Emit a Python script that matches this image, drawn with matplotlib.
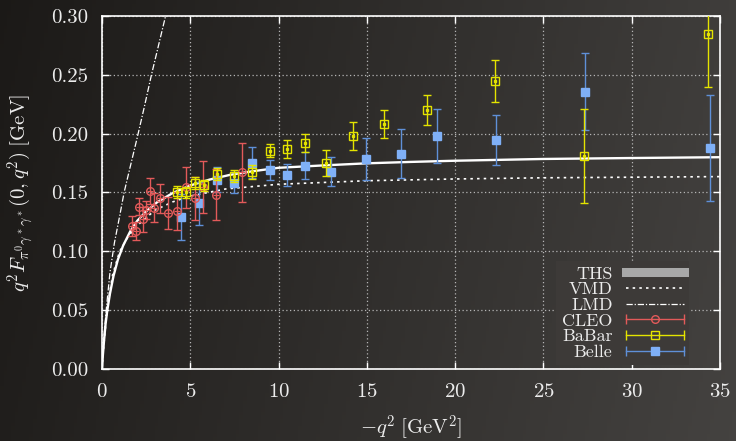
import numpy as np
import matplotlib
matplotlib.use("Agg")
import matplotlib.pyplot as plt
from matplotlib.lines import Line2D
from matplotlib.legend_handler import HandlerLine2D

# model curves: -q^2 [GeV^2] and q^2 F [GeV]
ths_q2 = [0, 0.05, 0.12, 0.2, 0.3, 0.45, 0.65, 0.9, 1.2, 1.6, 2.0, 2.5, 3.1, 4.0, 5.0, 6.1,
          7.25, 8.5, 10, 12.5, 15, 17.5, 20, 25, 30, 35]
ths_val = [0, 0.012, 0.025, 0.038, 0.050, 0.064, 0.079, 0.093, 0.105, 0.117, 0.126, 0.134,
           0.1415, 0.1495, 0.156, 0.161, 0.165, 0.168, 0.171, 0.173, 0.1748, 0.176, 0.177,
           0.1785, 0.1793, 0.180]

vmd_q2 = [0, 0.1, 0.3, 0.6, 1.0, 1.5, 2.0, 3.0, 4.0, 5.0, 7.0, 10, 15, 20, 25, 30, 35]
vmd_val = [0, 0.020, 0.052, 0.080, 0.100, 0.113, 0.122, 0.135, 0.142, 0.147, 0.153, 0.157,
           0.160, 0.1615, 0.1625, 0.163, 0.1635]

lmd_q2 = [0, 0.1, 0.25, 0.45, 0.7, 1.0, 1.25, 1.6, 2.0, 2.4, 2.8, 3.2, 3.6, 4.0]
lmd_val = [0, 0.025, 0.052, 0.082, 0.107, 0.130, 0.150, 0.172, 0.197, 0.223, 0.250, 0.275,
           0.300, 0.325]

# CLEO
cleo_q2 = [1.68, 1.9, 2.11, 2.3, 2.49, 2.72, 2.94, 3.3, 3.76, 4.24, 4.76, 5.27, 5.74, 6.47, 7.93]
cleo_val = [0.1215, 0.1173, 0.138, 0.1272, 0.1351, 0.1513, 0.137, 0.145, 0.1323, 0.1343,
            0.1544, 0.145, 0.155, 0.148, 0.167]
cleo_err = [0.0083, 0.0076, 0.0073, 0.0108, 0.008, 0.011, 0.0125, 0.0123, 0.0137, 0.0164,
            0.0175, 0.0184, 0.0221, 0.0218, 0.0253]

# BaBar
babar_q2 = [4.24, 4.76, 5.24, 5.75, 6.49, 7.47, 8.47, 9.49, 10.48, 11.5, 12.7, 14.23, 15.95,
            18.4, 22.27, 27.3, 34.33]
babar_val = [0.1507, 0.150, 0.1578, 0.156, 0.1657, 0.164, 0.1677, 0.1855, 0.1867, 0.1918,
             0.1753, 0.1983, 0.208, 0.22, 0.245, 0.181, 0.285]
babar_err = [0.005, 0.005, 0.005, 0.0045, 0.005, 0.005, 0.006, 0.0055, 0.0075, 0.0078,
             0.011, 0.012, 0.012, 0.013, 0.0177, 0.040, 0.045]

# Belle
belle_q2 = [4.45, 5.47, 6.51, 7.45, 8.49, 9.49, 10.48, 11.5, 12.94, 14.95, 16.96, 18.95,
            22.3, 27.33, 34.43]
belle_val = [0.1294, 0.1408, 0.161, 0.1583, 0.1753, 0.169, 0.1649, 0.1728, 0.1677, 0.1785,
             0.183, 0.198, 0.1946, 0.2357, 0.188]
belle_err = [0.0194, 0.0183, 0.011, 0.009, 0.013, 0.0085, 0.009, 0.0113, 0.0125, 0.018,
             0.021, 0.023, 0.0215, 0.033, 0.045]

red = "#e35a5a"
yellow = "#e4e400"
blue_bar = "#5f90d8"
blue_mk = "#7fb0f7"
fg = "#ececec"

plt.rcParams['font.family'] = 'cmr10'
plt.rcParams['mathtext.fontset'] = 'cm'
plt.rcParams['axes.formatter.use_mathtext'] = True

fig = plt.figure(figsize=(7.36, 4.41), dpi=100)

# dark chalkboard-ish background
def bg_lum(x, y):
    return 0.10 + 0.14 * x + 0.02 * (1 - y)

gx, gy = np.meshgrid(np.linspace(0, 1, 200), np.linspace(1, 0, 120))
lum = bg_lum(gx, gy)
bg = fig.add_axes([0, 0, 1, 1], zorder=-10)
bg.imshow(np.dstack([lum + 0.008, lum, lum - 0.008]), extent=(0, 1, 0, 1),
          aspect='auto')
bg.axis('off')
lg = bg_lum(0.82, 0.27)
leg_color = (lg + 0.008, lg, lg - 0.008)

ax = fig.add_axes([0.1386, 0.1633, 0.8397, 0.8004])
ax.set_facecolor('none')

ax.plot(ths_q2, ths_val, color='white', lw=1.7, zorder=3)
ax.plot(vmd_q2, vmd_val, color='white', lw=1.2, ls=(0, (1.5, 2.5)), zorder=3)
ax.plot(lmd_q2, lmd_val, color='white', lw=0.9, ls=(0, (5, 1.5, 1, 1.5)), zorder=3)

ax.errorbar(cleo_q2, cleo_val, yerr=cleo_err, fmt='o', ms=5.5, mfc='none', mec=red,
            mew=1, ecolor=red, elinewidth=1, capsize=3, capthick=1, zorder=5)
ax.plot(cleo_q2, cleo_val, '+', ms=4, mew=0.8, color=red, zorder=5)
ax.errorbar(babar_q2, babar_val, yerr=babar_err, fmt='s', ms=6, mfc='none', mec=yellow,
            mew=1, ecolor=yellow, elinewidth=1, capsize=3, capthick=1, zorder=6)
ax.plot(babar_q2, babar_val, 's', ms=1.5, color=yellow, zorder=6)
ax.errorbar(belle_q2, belle_val, yerr=belle_err, fmt='s', ms=5.5, mfc=blue_mk, mec=blue_mk,
            ecolor=blue_bar, elinewidth=1, capsize=3, capthick=1, zorder=4)

ax.set_xlim(0, 35)
ax.set_ylim(0, 0.30)
ax.set_xticks(np.arange(0, 36, 5))
ax.set_yticks(np.arange(0, 0.31, 0.05))
ax.set_yticklabels([f"{v:.2f}" for v in np.arange(0, 0.31, 0.05)])
ax.tick_params(direction='in', top=True, right=True, colors='white', labelcolor=fg,
               labelsize=15, length=5, width=1, pad=10)
for s in ax.spines.values():
    s.set_color('white')
    s.set_linewidth(1.2)
ax.set_axisbelow(True)
ax.grid(True, color='#b5b5b5', ls=(0, (1, 2)), lw=0.9)

ax.set_xlabel(r'$-q^2\;[\mathrm{GeV}^2]$', fontsize=15, color=fg, labelpad=9)
ax.set_ylabel(r'$q^2 F_{\pi^0\gamma^*\gamma^*}(0,q^2)\;[\mathrm{GeV}]$', fontsize=15,
              color=fg, labelpad=11)

# legend proxies
ths_h = Line2D([], [], color='#a8a8a8', lw=6.5)
vmd_h = Line2D([], [], color='white', lw=1.2, ls=(0, (1.5, 2.5)))
lmd_h = Line2D([], [], color='white', lw=0.9, ls=(0, (5, 1.5, 1, 1.5)))
hmap = {}
err_handles = []
for c, mk, mfc, ms in [(red, 'o', 'none', 5.5), (yellow, 's', 'none', 6), (blue_bar, 's', blue_mk, 5.5)]:
    caps = Line2D([], [], color=c, lw=1, marker='|', ms=7, mew=1)
    mark = Line2D([], [], ls='none', marker=mk, ms=ms, mfc=mfc,
                  mec=(blue_mk if mfc != 'none' else c), mew=1)
    hmap[caps] = HandlerLine2D(numpoints=2, marker_pad=0)
    err_handles.append((caps, mark))

leg = ax.legend([ths_h, vmd_h, lmd_h] + err_handles,
                ['THS', 'VMD', 'LMD', 'CLEO', 'BaBar', 'Belle'],
                loc='lower right', bbox_to_anchor=(0.956, 0.0), markerfirst=False,
                frameon=True, fancybox=False, facecolor=leg_color, edgecolor='none',
                framealpha=1, fontsize=13, handlelength=3.2, handletextpad=0.75,
                labelspacing=0.0, borderpad=0.3, borderaxespad=0.2, handler_map=hmap,
                labelcolor=fg)
leg.set_zorder(10)

fig.savefig('out.png', dpi=100)
